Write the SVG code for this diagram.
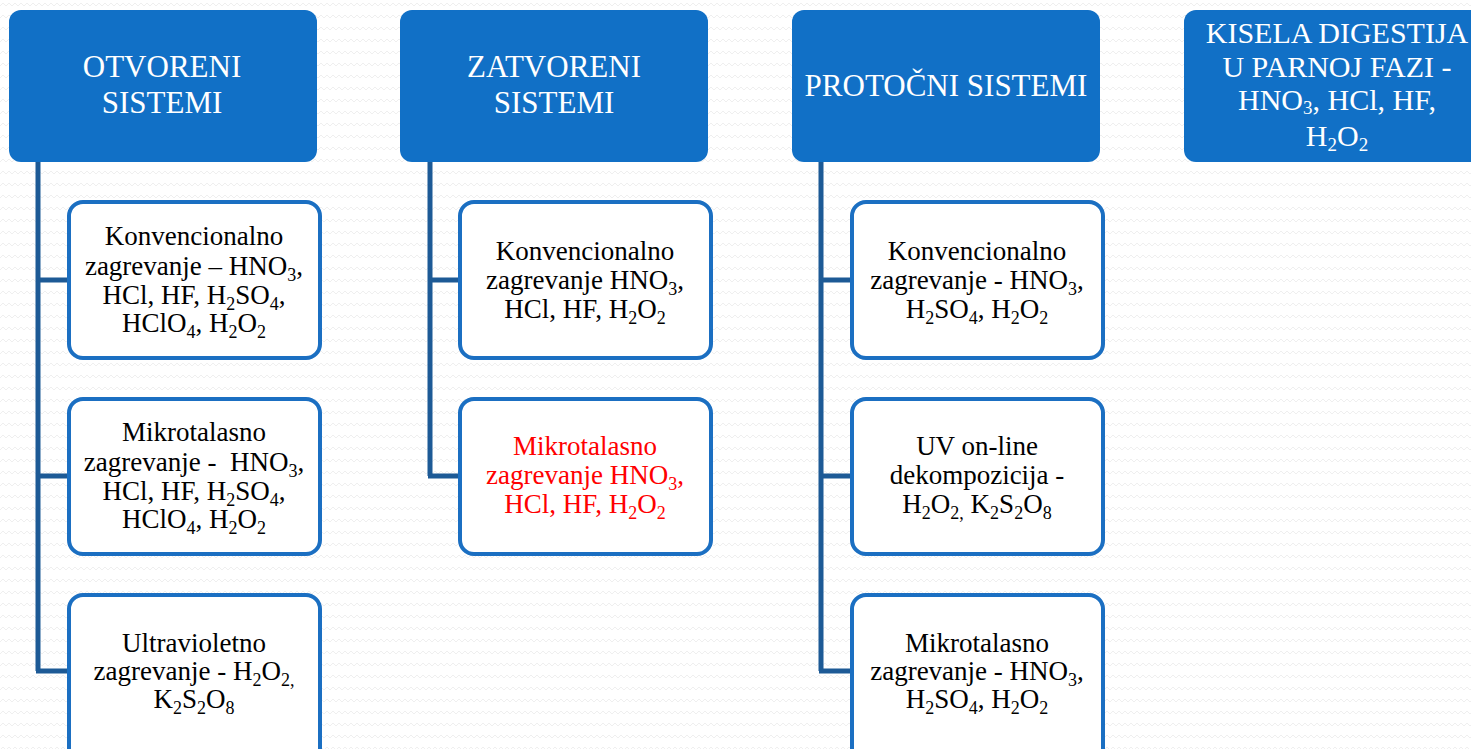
<svg xmlns="http://www.w3.org/2000/svg" width="1471" height="749" viewBox="0 0 1471 749">
<defs>
<pattern id="bg" width="12" height="12" patternUnits="userSpaceOnUse">
<path d="M0 6 L3 3 L6 6 L9 3 L12 6" fill="none" stroke="#efefef" stroke-width="1"/>
</pattern>
<style>
.hdr{fill:#1170C6;}
.hdrt{fill:#ffffff;font-family:"Liberation Serif",serif;font-size:31px;text-anchor:middle;}
.box{fill:#ffffff;stroke:#1B6FC2;stroke-width:4;}
.t{fill:#000000;font-family:"Liberation Serif",serif;font-size:27px;text-anchor:middle;}
.red{fill:#FF0000;}
.sb{font-size:18px;}
.hs{font-size:19px;}
.con{fill:none;stroke:#1D5A96;stroke-width:5;}
</style>
</defs>
<rect width="1471" height="749" fill="#ffffff"/>
<rect width="1471" height="749" fill="url(#bg)"/>

<g id="connectors">
<path class="con" d="M38 162 V671 M36 280 H69 M36 476 H69 M36 671 H69"/>
<path class="con" d="M430 162 V476 M428 280 H460 M428 476 H460"/>
<path class="con" d="M821 162 V671 M819 280 H852 M819 476 H852 M819 671 H852"/>
</g>

<g id="h-otvoreni">
<rect class="hdr" x="9" y="10" width="308" height="152" rx="12"/>
<text class="hdrt" x="162" y="77">OTVORENI</text>
<text class="hdrt" x="162" y="113">SISTEMI</text>
</g>
<g id="h-zatvoreni">
<rect class="hdr" x="400" y="10" width="308" height="152" rx="12"/>
<text class="hdrt" x="554" y="77">ZATVORENI</text>
<text class="hdrt" x="554" y="113">SISTEMI</text>
</g>
<g id="h-protocni">
<rect class="hdr" x="792" y="10" width="308" height="152" rx="12"/>
<text class="hdrt" x="946" y="96">PROTOČNI SISTEMI</text>
</g>
<g id="h-kisela">
<rect class="hdr" x="1184" y="10" width="320" height="152" rx="12"/>
<text class="hdrt" style="font-size:30px" x="1337" y="43">KISELA DIGESTIJA</text>
<text class="hdrt" style="font-size:30px" x="1337" y="77">U PARNOJ FAZI -</text>
<text class="hdrt" style="font-size:30px" x="1337" y="110">HNO<tspan class="hs" dy="4">3</tspan><tspan dy="-4">, HCl, HF,</tspan></text>
<text class="hdrt" style="font-size:30px" x="1337" y="146">H<tspan class="hs" dy="5">2</tspan><tspan dy="-5">O</tspan><tspan class="hs" dy="5">2</tspan></text>
</g>

<g id="o1">
<rect class="box" x="69" y="202" width="251" height="156" rx="14"/>
<text class="t" x="194" y="245">Konvencionalno</text>
<text class="t" x="194" y="275">zagrevanje – HNO<tspan class="sb" dy="6">3</tspan><tspan dy="-6">,</tspan></text>
<text class="t" x="194" y="304">HCl, HF, H<tspan class="sb" dy="6">2</tspan><tspan dy="-6">SO</tspan><tspan class="sb" dy="6">4</tspan><tspan dy="-6">,</tspan></text>
<text class="t" x="194" y="332">HClO<tspan class="sb" dy="6">4</tspan><tspan dy="-6">, H</tspan><tspan class="sb" dy="6">2</tspan><tspan dy="-6">O</tspan><tspan class="sb" dy="6">2</tspan></text>
</g>
<g id="o2">
<rect class="box" x="69" y="399" width="251" height="155" rx="14"/>
<text class="t" x="194" y="441">Mikrotalasno</text>
<text class="t" x="194" y="471">zagrevanje - &#160;HNO<tspan class="sb" dy="6">3</tspan><tspan dy="-6">,</tspan></text>
<text class="t" x="194" y="500">HCl, HF, H<tspan class="sb" dy="6">2</tspan><tspan dy="-6">SO</tspan><tspan class="sb" dy="6">4</tspan><tspan dy="-6">,</tspan></text>
<text class="t" x="194" y="528">HClO<tspan class="sb" dy="6">4</tspan><tspan dy="-6">, H</tspan><tspan class="sb" dy="6">2</tspan><tspan dy="-6">O</tspan><tspan class="sb" dy="6">2</tspan></text>
</g>
<g id="o3">
<rect class="box" x="69" y="595" width="251" height="170" rx="14"/>
<text class="t" x="194" y="652">Ultravioletno</text>
<text class="t" x="194" y="680">zagrevanje - H<tspan class="sb" dy="6">2</tspan><tspan dy="-6">O</tspan><tspan class="sb" dy="6">2,</tspan></text>
<text class="t" x="194" y="708">K<tspan class="sb" dy="6">2</tspan><tspan dy="-6">S</tspan><tspan class="sb" dy="6">2</tspan><tspan dy="-6">O</tspan><tspan class="sb" dy="6">8</tspan></text>
</g>

<g id="z1">
<rect class="box" x="460" y="202" width="251" height="156" rx="14"/>
<text class="t" x="585" y="260">Konvencionalno</text>
<text class="t" x="585" y="289">zagrevanje HNO<tspan class="sb" dy="6">3</tspan><tspan dy="-6">,</tspan></text>
<text class="t" x="585" y="318">HCl, HF, H<tspan class="sb" dy="6">2</tspan><tspan dy="-6">O</tspan><tspan class="sb" dy="6">2</tspan></text>
</g>
<g id="z2">
<rect class="box" x="460" y="399" width="251" height="155" rx="14"/>
<text class="t red" x="585" y="455">Mikrotalasno</text>
<text class="t red" x="585" y="484">zagrevanje HNO<tspan class="sb" dy="6">3</tspan><tspan dy="-6">,</tspan></text>
<text class="t red" x="585" y="513">HCl, HF, H<tspan class="sb" dy="6">2</tspan><tspan dy="-6">O</tspan><tspan class="sb" dy="6">2</tspan></text>
</g>

<g id="p1">
<rect class="box" x="852" y="202" width="251" height="156" rx="14"/>
<text class="t" x="977" y="260">Konvencionalno</text>
<text class="t" x="977" y="289">zagrevanje - HNO<tspan class="sb" dy="6">3</tspan><tspan dy="-6">,</tspan></text>
<text class="t" x="977" y="318">H<tspan class="sb" dy="6">2</tspan><tspan dy="-6">SO</tspan><tspan class="sb" dy="6">4</tspan><tspan dy="-6">, H</tspan><tspan class="sb" dy="6">2</tspan><tspan dy="-6">O</tspan><tspan class="sb" dy="6">2</tspan></text>
</g>
<g id="p2">
<rect class="box" x="852" y="399" width="251" height="155" rx="14"/>
<text class="t" x="977" y="455">UV on-line</text>
<text class="t" x="977" y="484">dekompozicija -</text>
<text class="t" x="977" y="513">H<tspan class="sb" dy="6">2</tspan><tspan dy="-6">O</tspan><tspan class="sb" dy="6">2,</tspan><tspan dy="-6"> K</tspan><tspan class="sb" dy="6">2</tspan><tspan dy="-6">S</tspan><tspan class="sb" dy="6">2</tspan><tspan dy="-6">O</tspan><tspan class="sb" dy="6">8</tspan></text>
</g>
<g id="p3">
<rect class="box" x="852" y="595" width="251" height="170" rx="14"/>
<text class="t" x="977" y="652">Mikrotalasno</text>
<text class="t" x="977" y="680">zagrevanje - HNO<tspan class="sb" dy="6">3</tspan><tspan dy="-6">,</tspan></text>
<text class="t" x="977" y="708">H<tspan class="sb" dy="6">2</tspan><tspan dy="-6">SO</tspan><tspan class="sb" dy="6">4</tspan><tspan dy="-6">, H</tspan><tspan class="sb" dy="6">2</tspan><tspan dy="-6">O</tspan><tspan class="sb" dy="6">2</tspan></text>
</g>
</svg>
